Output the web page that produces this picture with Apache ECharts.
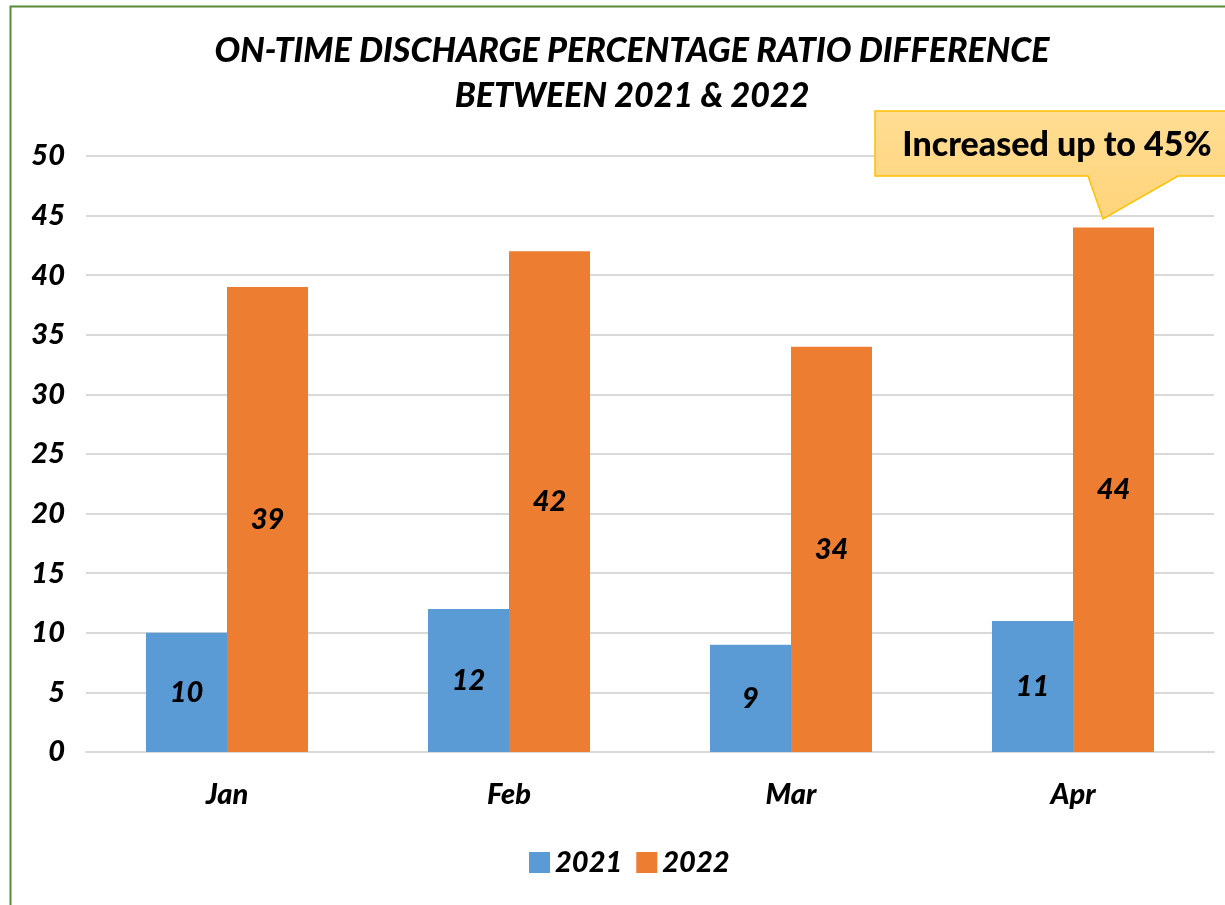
<!DOCTYPE html>
<html>
<head>
<meta charset="utf-8">
<script src="https://cdn.jsdelivr.net/npm/echarts@6/dist/echarts.min.js"></script>
<style>
  html, body { margin: 0; padding: 0; background: #fff; }
  #main { width: 1225px; height: 905px; }
</style>
</head>
<body>
<div id="main"></div>
<script>
// chart data
const months = ["Jan", "Feb", "Mar", "Apr"];
const values2021 = [10, 12, 9, 11];
const values2022 = [39, 42, 34, 44];
const yTicks = [0, 50, 5]; // min, max, interval

const titleText = "ON-TIME DISCHARGE PERCENTAGE RATIO DIFFERENCE\nBETWEEN 2021 & 2022";
const calloutText = "Increased up to 45%";

const FONT = "Lato, 'Open Sans', sans-serif";

const chart = echarts.init(document.getElementById("main"));

const labelStyle = {
  show: true,
  position: "inside",
  color: "#000",
  fontFamily: FONT,
  fontWeight: 900,
  fontStyle: "italic",
  fontSize: 29,
};

const option = {
  animation: false,
  title: {
    text: titleText,
    left: 627,
    textAlign: "center",
    top: 24,
    textStyle: {
      fontFamily: FONT,
      fontWeight: 900,
      fontStyle: "italic",
      fontSize: 34,
      lineHeight: 45,
      color: "#000",
    },
  },
  legend: {
    bottom: 23,
    left: 524,
    itemWidth: 21,
    itemHeight: 21,
    itemGap: 14,
    icon: "rect",
    textStyle: {
      fontFamily: FONT,
      fontWeight: 900,
      fontStyle: "italic",
      fontSize: 29,
      color: "#000",
    },
  },
  grid: {
    left: 86,
    right: 11,
    top: 156,
    bottom: 153,
  },
  xAxis: {
    type: "category",
    data: months,
    axisTick: { show: false },
    axisLine: { show: true, lineStyle: { color: "#D9D9D9", width: 2 } },
    axisLabel: {
      margin: 28,
      color: "#000",
      fontFamily: FONT,
      fontWeight: 900,
      fontStyle: "italic",
      fontSize: 29,
    },
  },
  yAxis: {
    type: "value",
    min: yTicks[0],
    max: yTicks[1],
    interval: yTicks[2],
    axisLine: { show: false },
    axisTick: { show: false },
    splitLine: { lineStyle: { color: "#D9D9D9", width: 2 } },
    axisLabel: {
      margin: 21,
      color: "#000",
      fontFamily: FONT,
      fontWeight: 900,
      fontStyle: "italic",
      fontSize: 29,
    },
  },
  series: [
    {
      name: "2021",
      type: "bar",
      data: values2021,
      barWidth: 81,
      barGap: "0%",
      itemStyle: { color: "#5B9BD5" },
      label: labelStyle,
    },
    {
      name: "2022",
      type: "bar",
      data: values2022,
      barWidth: 81,
      itemStyle: { color: "#ED7D31" },
      label: labelStyle,
    },
  ],
  graphic: [
    // green outer frame
    {
      type: "rect",
      shape: { x: 10.5, y: 6.5, width: 1300, height: 1000 },
      style: { fill: null, stroke: "#5B8A3A", lineWidth: 2 },
      z: 100,
    },
    // callout box
    {
      type: "polygon",
      shape: {
        points: [
          [875, 111], [1240, 111], [1240, 176], [1178, 176],
          [1103, 219], [1088, 176], [875, 176],
        ],
      },
      style: {
        fill: new echarts.graphic.LinearGradient(0, 0, 0, 1, [
          { offset: 0, color: "#FFDD94" },
          { offset: 1, color: "#FFD47A" },
        ]),
        stroke: "#FFC000",
        lineWidth: 1.5,
      },
      z: 50,
    },
    {
      type: "text",
      x: 1057,
      y: 145,
      style: {
        text: calloutText,
        fontFamily: FONT,
        fontWeight: 900,
        fontSize: 34,
        fill: "#000",
        align: "center",
        verticalAlign: "middle",
      },
      z: 51,
    },
  ],
};

chart.setOption(option);
</script>
</body>
</html>
